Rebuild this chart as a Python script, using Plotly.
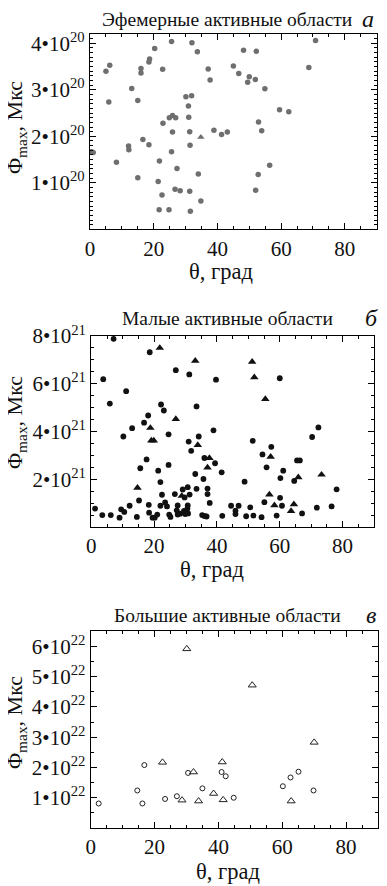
import plotly.graph_objects as go

# ---------------- data ----------------
# Panel a: ephemeral active regions (flux in units of 1e20 Mx)
a_circ_theta = [25.6, 32.0, 20.3, 33.7, 18.7, 18.5, 6.2, 5.0, 16.0, 16.0, 22.8, 37.1, 45.0, 37.7,
                13.1, 5.9, 15.0, 30.1, 31.9, 30.9, 24.9, 25.9, 26.9, 31.0, 22.9, 25.9, 31.3,
                38.9, 41.3, 43.1, 16.6, 18.5, 12.1, 12.2, 0.5, 1.0, 25.6, 31.4, 8.3, 21.8, 27.3,
                34.0, 15.0, 21.4, 26.7, 28.3, 31.3, 22.6, 34.8, 21.7, 24.8, 31.5,
                70.8, 48.2, 52.2, 68.7, 46.7, 50.0, 49.5, 51.9, 54.9, 59.5, 62.4, 52.9, 53.9,
                56.4, 52.8, 52.0]
a_circ_flux = [4.04, 4.01, 3.89, 3.82, 3.66, 3.60, 3.53, 3.40, 3.46, 3.36, 3.44, 3.45, 3.51, 3.21,
               3.03, 2.74, 2.77, 2.85, 2.87, 2.65, 2.40, 2.45, 2.40, 2.41, 2.28, 2.09, 2.10,
               2.13, 2.04, 2.09, 1.93, 1.82, 1.79, 1.71, 1.67, 1.65, 1.67, 1.81, 1.44, 1.47, 1.31,
               1.19, 1.11, 1.03, 0.86, 0.83, 0.82, 0.74, 0.61, 0.42, 0.42, 0.39,
               4.06, 3.85, 3.83, 3.48, 3.35, 3.28, 3.16, 3.22, 3.02, 2.57, 2.53, 2.31, 2.12,
               1.38, 1.18, 0.84]
a_tri_theta = [34.8]
a_tri_flux = [1.98]

# Panel b: small active regions (units of 1e21 Mx)
b_circ_theta = [7.1, 18.6, 26.9, 31.2, 3.8, 39.7, 11.1, 5.9, 22.2, 23.1, 33.5, 18.1, 16.8, 13.0,
                10.2, 24.6, 38.9, 31.0, 34.2, 31.8, 17.6, 36.0, 39.4, 15.6, 24.6, 21.3, 41.5,
                33.1, 35.7, 22.0, 33.5, 37.0, 29.1, 37.0, 30.7, 26.6, 22.5, 29.7, 31.3, 15.2,
                37.7, 23.5, 18.3, 12.2, 22.0, 24.1, 27.5, 30.7, 44.5, 1.2, 9.5, 10.5, 18.4,
                27.2, 28.3, 29.5, 30.6, 30.8, 3.5, 6.2, 9.0, 14.5, 19.5, 20.2, 21.0, 24.8,
                25.2, 27.5, 29.9, 35.3, 36.0, 36.7, 41.7, 45.9, 45.9,
                60.0, 72.3, 70.3, 51.4, 57.3, 54.5, 65.5, 66.4, 55.8, 61.1, 60.2, 64.6, 48.8,
                78.1, 60.1, 55.1, 60.7, 50.6, 46.9, 49.3, 51.6, 54.2, 59.0, 67.1, 71.8, 76.5]
b_circ_flux = [7.88, 7.32, 6.57, 6.39, 6.19, 6.17, 5.69, 5.17, 5.13, 4.88, 5.05, 4.67, 4.37, 4.14,
               3.79, 3.88, 4.05, 3.58, 3.79, 3.19, 2.83, 2.89, 2.67, 2.46, 2.60, 2.36, 2.29,
               2.22, 2.01, 1.88, 1.60, 1.61, 1.57, 1.38, 1.67, 1.38, 1.35, 1.24, 1.36, 1.11,
               1.01, 1.03, 0.93, 0.89, 0.89, 0.86, 0.90, 0.90, 0.89, 0.77, 0.74, 0.63, 0.60,
               0.70, 0.56, 0.67, 0.77, 0.57, 0.50, 0.50, 0.39, 0.42, 0.39, 0.39, 0.52, 0.52,
               0.42, 0.52, 0.54, 0.50, 0.46, 0.44, 0.47, 0.68, 0.54,
               6.23, 4.17, 3.77, 3.61, 3.36, 3.04, 2.79, 2.79, 2.50, 2.36, 2.05, 1.93, 1.90,
               1.58, 1.22, 1.04, 0.89, 0.82, 0.89, 0.45, 0.48, 0.41, 0.48, 0.57, 0.81, 0.86]
b_tri_theta = [21.8, 33.1, 26.9, 18.8, 19.1, 19.9, 33.9, 37.6, 37.0, 14.7, 28.8,
               51.2, 51.9, 55.4, 57.1, 65.9, 73.3, 56.7, 58.3, 64.5, 63.6]
b_tri_flux = [7.50, 6.96, 4.52, 4.15, 3.62, 3.62, 3.43, 2.89, 2.49, 1.64, 1.30,
              6.92, 6.27, 5.36, 2.94, 2.08, 2.19, 1.36, 0.91, 0.95, 0.67]

# Panel c: large active regions (units of 1e22 Mx)
c_circ_theta = [16.8, 30.5, 41.0, 42.3, 65.1, 62.6, 60.2, 69.8, 14.6, 35.0, 27.0, 23.3, 44.8, 2.5, 16.2]
c_circ_flux = [2.08, 1.82, 1.85, 1.71, 1.86, 1.67, 1.38, 1.24, 1.24, 1.31, 1.05, 0.96, 1.00, 0.81, 0.81]
c_tri_theta = [30.1, 50.6, 70.0, 22.5, 41.2, 32.2, 38.5, 28.6, 33.8, 41.5, 62.8]
c_tri_flux = [5.92, 4.72, 2.83, 2.17, 2.18, 1.85, 1.14, 0.92, 0.89, 0.93, 0.89]

x_ticks = [0, 20, 40, 60, 80]
a_yticks = [1, 2, 3, 4]
b_yticks = [2, 4, 6, 8]
c_yticks = [1, 2, 3, 4, 5, 6]

titles = ["Эфемерные активные области", "Малые активные области", "Большие активные области"]
letters = ["а", "б", "в"]
xlabel = "θ, град"
ylabel = "Φ<sub>max</sub>, Мкс"

# ---------------- figure ----------------
# The page body adds an 8px margin, so the figure is drawn 8px smaller and
# positions below are given in window pixels, then converted.
OFF = 8
W, H = 387 - OFF, 886 - OFF
FONT = "Liberation Serif"
fig = go.Figure()

def px2x(p):
    return (p - OFF) / W

def px2y(p):
    return 1 - (p - OFF) / H

panels = [
    dict(x0=90, x1=376.7, top=34, bot=229.3, yr=[0, 4.2], yt=a_yticks, exp=20, ymin=0.1),
    dict(x0=91.3, x1=374, top=336, bot=527, yr=[0, 8.0], yt=b_yticks, exp=21, ymin=0.5),
    dict(x0=90.7, x1=378, top=631.3, bot=828, yr=[0, 6.5], yt=c_yticks, exp=22, ymin=0.5),
]

data = [
    (a_circ_theta, a_circ_flux, a_tri_theta, a_tri_flux),
    (b_circ_theta, b_circ_flux, b_tri_theta, b_tri_flux),
    (c_circ_theta, c_circ_flux, c_tri_theta, c_tri_flux),
]

styles = [
    dict(circ=dict(symbol="circle", size=5.5, color="#6f6f6f", line=dict(width=0)),
         tri=dict(symbol="triangle-up", size=6.5, color="#6f6f6f", line=dict(width=0))),
    dict(circ=dict(symbol="circle", size=5.8, color="#111111", line=dict(width=0)),
         tri=dict(symbol="triangle-up", size=7.5, color="#111111", line=dict(width=0))),
    dict(circ=dict(symbol="circle-open", size=5, color="#222222", line=dict(width=1)),
         tri=dict(symbol="triangle-up-open", size=7, color="#222222", line=dict(width=1))),
]

title_y = [19, 318, 615]
letter_x = [368, 371, 371]
ylab_y = [128, 423, 723]
xlab_y = [271, 569, 871]
xlab_x = [221, 212, 228]

for i, p in enumerate(panels):
    sfx = "" if i == 0 else str(i + 1)
    xa = "x" + sfx
    ya = "y" + sfx
    ct, cf, tt, tf = data[i]
    fig.add_trace(go.Scatter(x=ct, y=cf, mode="markers", marker=styles[i]["circ"],
                             xaxis=xa, yaxis=ya, showlegend=False, hoverinfo="skip"))
    fig.add_trace(go.Scatter(x=tt, y=tf, mode="markers", marker=styles[i]["tri"],
                             xaxis=xa, yaxis=ya, showlegend=False, hoverinfo="skip"))
    common = dict(showline=True, linecolor="black", linewidth=1.3, mirror="allticks",
                  ticks="inside", ticklen=6, tickwidth=1, tickcolor="black",
                  showgrid=False, zeroline=False, automargin=False,
                  tickfont=dict(family=FONT, size=21, color="#111111"))
    fig.layout["xaxis" + sfx] = dict(
        domain=[px2x(p["x0"]), px2x(p["x1"])], range=[0, 90], anchor=ya,
        tickvals=x_ticks, ticktext=[str(v) for v in x_ticks],
        minor=dict(ticks="inside", dtick=5, tick0=0, ticklen=3, tickcolor="black", showgrid=False),
        **common)
    fig.layout["yaxis" + sfx] = dict(
        domain=[px2y(p["bot"]), px2y(p["top"])], range=p["yr"], anchor=xa,
        tickvals=p["yt"], ticktext=[f"{v}•10<sup>{p['exp']}</sup>" for v in p["yt"]],
        minor=dict(ticks="inside", dtick=p["ymin"], tick0=0, ticklen=3, tickcolor="black", showgrid=False),
        **common)
    fig.add_annotation(text=titles[i], x=px2x(227), y=px2y(title_y[i]), xref="paper", yref="paper",
                       showarrow=False, xanchor="center", yanchor="middle",
                       font=dict(family=FONT, size=19.5, color="#111111"))
    fig.add_annotation(text=f"<i>{letters[i]}</i>", x=px2x(letter_x[i]), y=px2y(title_y[i]),
                       xref="paper", yref="paper", showarrow=False, xanchor="center", yanchor="middle",
                       font=dict(family=FONT, size=24, color="#111111"))
    fig.add_annotation(text=ylabel, x=px2x(16), y=px2y(ylab_y[i]), xref="paper", yref="paper",
                       showarrow=False, textangle=-90, xanchor="center", yanchor="middle",
                       font=dict(family=FONT, size=22, color="#111111"))
    fig.add_annotation(text=xlabel, x=px2x(xlab_x[i]), y=px2y(xlab_y[i]), xref="paper", yref="paper",
                       showarrow=False, xanchor="center", yanchor="middle",
                       font=dict(family=FONT, size=22.5, color="#111111"))

fig.update_layout(width=W, height=H, margin=dict(l=0, r=0, t=0, b=0, autoexpand=False),
                  paper_bgcolor="white", plot_bgcolor="white", showlegend=False)

fig.write_html("out.html")
